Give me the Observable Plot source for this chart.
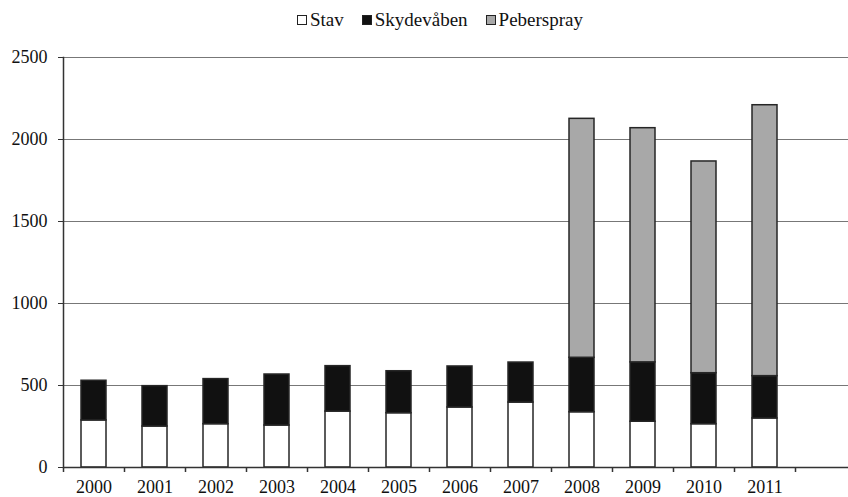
<!DOCTYPE html>
<html>
<head>
<meta charset="utf-8">
<script src="https://cdn.jsdelivr.net/npm/d3@7"></script>
<script src="https://cdn.jsdelivr.net/npm/@observablehq/plot@0.6"></script>
<style>
  html, body { margin: 0; padding: 0; background: #fff; }
  body { width: 848px; height: 497px; overflow: hidden; }
  #legend { height: 40px; display: flex; justify-content: center; align-items: center; font-family: 'Liberation Serif', 'Times New Roman', 'DejaVu Serif', serif; font-size: 19px; color: #111; padding-left: 32px; box-sizing: border-box; }
  .item { display: flex; align-items: center; margin: 0 9px; }
  .sw { width: 8px; height: 8px; border: 1.5px solid #222; margin-right: 3px; }
  svg { display: block; }
</style>
</head>
<body>
<div id="legend"></div>
<div id="chart"></div>
<script>
const years = ["2000","2001","2002","2003","2004","2005","2006","2007","2008","2009","2010","2011"];
const extraCategory = "2012";
const seriesNames = ["Stav", "Skydevåben", "Peberspray"];
const stav = [287, 250, 264, 256, 341, 331, 366, 396, 337, 279, 264, 299];
const skydevaaben = [242, 246, 275, 311, 277, 256, 250, 244, 332, 362, 311, 258];
const peberspray = [0, 0, 0, 0, 0, 0, 0, 0, 1457, 1428, 1291, 1652];
const yTicks = [0, 500, 1000, 1500, 2000, 2500];
const colors = ["#ffffff", "#111111", "#a8a8a8"];

const seriesValues = [stav, skydevaaben, peberspray];
const data = [];
years.forEach((yr, i) => {
  seriesNames.forEach((s, k) => {
    const v = seriesValues[k][i];
    if (v > 0) data.push({year: yr, series: s, value: v});
  });
});

const legend = document.getElementById("legend");
seriesNames.forEach((s, k) => {
  const it = document.createElement("div");
  it.className = "item";
  const sw = document.createElement("div");
  sw.className = "sw";
  sw.style.background = colors[k];
  it.appendChild(sw);
  const t = document.createElement("span");
  t.textContent = s;
  it.appendChild(t);
  legend.appendChild(it);
});

const domain = [...years, extraCategory];
const serif = "'Liberation Serif', 'Times New Roman', 'DejaVu Serif', serif";

const chart = Plot.plot({
  width: 848,
  height: 457,
  marginTop: 17,
  marginBottom: 30,
  marginLeft: 63,
  marginRight: 0,
  style: {fontFamily: serif, fontSize: "18px", color: "#111", overflow: "visible"},
  x: {type: "band", domain, range: [63, 856], paddingInner: 0.59, paddingOuter: 0.295},
  y: {domain: [0, 2500]},
  color: {domain: seriesNames, range: colors},
  marks: [
    Plot.ruleY(yTicks.filter(d => d > 0), {stroke: "#777", strokeWidth: 1}),
    Plot.barY(data, Plot.stackY({x: "year", y: "value", fill: "series", stroke: "#262626", strokeWidth: 1.5, order: seriesNames})),
    Plot.ruleY([0], {stroke: "#333", strokeWidth: 1.5}),
    Plot.frame({anchor: "left", stroke: "#333", strokeWidth: 1.5}),
    Plot.ruleX(domain, {x: d => d, y1: 0, y2: 0, dx: -30.5, insetBottom: -5, stroke: "#333", strokeWidth: 1.5}),
    Plot.axisY({ticks: yTicks, tickFormat: d => String(d), tickSize: 5, tickPadding: 11, label: null, stroke: "#333", fill: "#111", fontFamily: serif}),
    Plot.axisX({ticks: years, tickSize: 0, tickPadding: 13, label: null, fill: "#111", fontFamily: serif})
  ]
});
document.getElementById("chart").appendChild(chart);
</script>
</body>
</html>
